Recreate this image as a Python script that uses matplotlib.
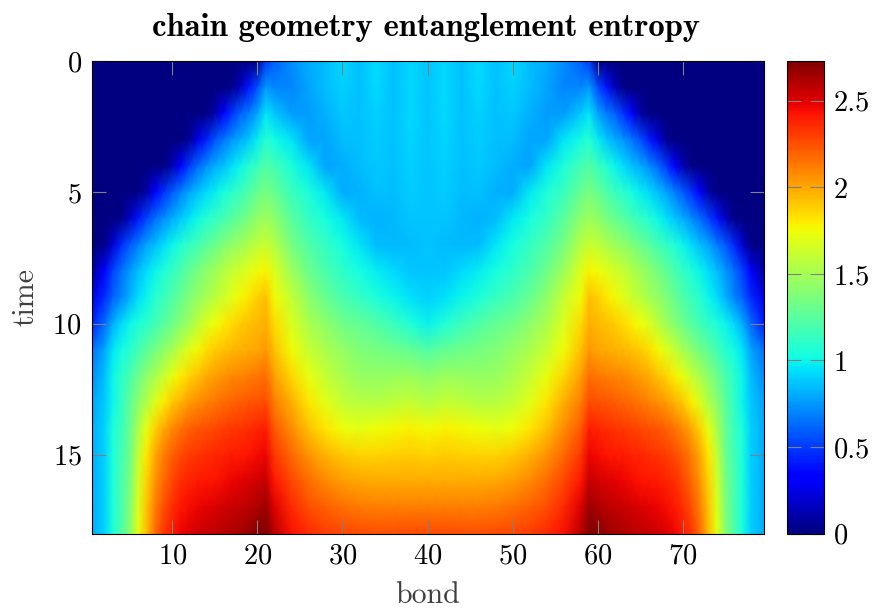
import numpy as np
import matplotlib
matplotlib.use("Agg")
import matplotlib.pyplot as plt

W, H = 876, 612
TICK_GREY = "#808080"

title = "chain geometry entanglement entropy"
x_label = "bond"
y_label = "time"
x_ticks = [10, 20, 30, 40, 50, 60, 70]
y_ticks = [0, 5, 10, 15]
cbar_ticks = [0, 0.5, 1, 1.5, 2, 2.5]
cbar_tick_labels = ["0", "0.5", "1", "1.5", "2", "2.5"]
v_max = 2.73

half_bonds = [0.5, 2, 3, 4, 5, 6, 7, 8, 9, 10, 11, 12, 13, 14, 15, 16, 17, 18, 19, 20, 21,
              22, 24, 26, 28, 30, 32, 34, 36, 38, 40]
times = list(range(19))
entropy_half = [
    [0, 0, 0, 0, 0, 0, 0, 0, 0, 0, 0, 0, 0, 0, 0, 0, 0, 0, 0, .03, .5,
     .6, .72, .8, .85, .92, .86, .93, .86, .92, .87],
    [0, 0, 0, 0, 0, 0, 0, 0, 0, 0, 0, 0, 0, 0, 0, 0, .03, .15, .4, .55, .75,
     .7, .7, .78, .85, .9, .86, .92, .86, .92, .87],
    [0, 0, 0, 0, 0, 0, 0, 0, 0, 0, 0, 0, 0, .02, .1, .32, .47, .6, .68, .78, .95,
     .88, .76, .76, .82, .88, .86, .9, .86, .92, .87],
    [0, 0, 0, 0, 0, 0, 0, 0, 0, 0, 0, .06, .25, .42, .56, .66, .74, .8, .88, .98, 1.08,
     1.02, .95, .78, .78, .85, .86, .89, .86, .91, .87],
    [0, 0, 0, 0, 0, 0, 0, 0, .02, .12, .35, .5, .62, .72, .8, .86, .93, 1.0, 1.07, 1.15, 1.22,
     1.18, 1.05, .95, .78, .8, .85, .88, .86, .9, .87],
    [0, 0, 0, 0, 0, .02, .1, .32, .47, .58, .69, .78, .86, .93, .98, 1.03, 1.09, 1.15, 1.22, 1.3, 1.35,
     1.3, 1.15, 1.05, .97, .8, .82, .86, .85, .89, .87],
    [0, 0, 0, .03, .17, .4, .53, .63, .72, .8, .88, .95, 1.01, 1.07, 1.12, 1.18, 1.24, 1.3, 1.36, 1.43, 1.48,
     1.42, 1.25, 1.12, 1.03, .96, .85, .82, .84, .87, .87],
    [0, .03, .2, .45, .58, .68, .78, .85, .93, 1.0, 1.06, 1.12, 1.18, 1.25, 1.31, 1.38, 1.43, 1.48, 1.53, 1.58, 1.62,
     1.55, 1.35, 1.22, 1.12, 1.03, .95, .85, .84, .85, .87],
    [.08, .33, .52, .65, .75, .85, .93, 1.0, 1.06, 1.13, 1.2, 1.28, 1.35, 1.42, 1.48, 1.55, 1.6, 1.65, 1.7, 1.75, 1.78,
     1.68, 1.48, 1.32, 1.2, 1.1, 1.03, .98, .92, .87, .87],
    [.25, .45, .6, .7, .82, .93, 1.0, 1.08, 1.15, 1.22, 1.3, 1.38, 1.44, 1.5, 1.57, 1.63, 1.7, 1.76, 1.82, 1.88, 1.92,
     1.75, 1.6, 1.42, 1.3, 1.2, 1.12, 1.05, 1.0, .94, .9],
    [.42, .62, .8, .92, 1.0, 1.05, 1.1, 1.17, 1.24, 1.32, 1.4, 1.48, 1.58, 1.68, 1.74, 1.8, 1.85, 1.89, 1.92, 1.95, 1.98,
     1.85, 1.68, 1.52, 1.42, 1.33, 1.28, 1.22, 1.15, 1.06, .99],
    [.65, .78, .95, 1.02, 1.08, 1.18, 1.26, 1.34, 1.42, 1.5, 1.6, 1.7, 1.77, 1.84, 1.89, 1.92, 1.95, 1.97, 1.99, 2.0, 2.04,
     1.92, 1.75, 1.62, 1.52, 1.45, 1.38, 1.35, 1.32, 1.28, 1.22],
    [.72, .85, 1.0, 1.1, 1.2, 1.32, 1.42, 1.52, 1.62, 1.72, 1.8, 1.87, 1.93, 1.99, 2.02, 2.05, 2.08, 2.1, 2.12, 2.14, 2.16,
     2.02, 1.86, 1.72, 1.6, 1.52, 1.46, 1.45, 1.46, 1.47, 1.42],
    [.78, .88, 1.0, 1.12, 1.26, 1.42, 1.54, 1.68, 1.8, 1.9, 1.97, 2.03, 2.07, 2.11, 2.14, 2.17, 2.19, 2.21, 2.23, 2.25, 2.27,
     2.12, 1.98, 1.82, 1.7, 1.61, 1.56, 1.55, 1.58, 1.6, 1.55],
    [.8, .9, 1.05, 1.15, 1.3, 1.52, 1.72, 1.88, 2.0, 2.09, 2.15, 2.2, 2.23, 2.26, 2.28, 2.3, 2.32, 2.33, 2.35, 2.37, 2.39,
     2.22, 2.07, 1.92, 1.82, 1.74, 1.71, 1.74, 1.77, 1.79, 1.75],
    [.8, .9, 1.05, 1.18, 1.32, 1.6, 1.82, 2.0, 2.12, 2.2, 2.27, 2.31, 2.33, 2.35, 2.37, 2.38, 2.4, 2.41, 2.43, 2.45, 2.47,
     2.32, 2.18, 2.05, 1.97, 1.9, 1.87, 1.87, 1.88, 1.89, 1.87],
    [.8, .9, 1.05, 1.2, 1.35, 1.65, 1.88, 2.05, 2.18, 2.28, 2.35, 2.38, 2.4, 2.42, 2.43, 2.45, 2.47, 2.49, 2.51, 2.53, 2.56,
     2.42, 2.28, 2.17, 2.08, 2.03, 2.0, 1.99, 1.99, 1.99, 1.99],
    [.8, .9, 1.05, 1.2, 1.38, 1.68, 1.92, 2.12, 2.26, 2.35, 2.42, 2.45, 2.47, 2.49, 2.51, 2.53, 2.55, 2.57, 2.59, 2.62, 2.66,
     2.5, 2.36, 2.26, 2.2, 2.16, 2.13, 2.12, 2.12, 2.12, 2.12],
    [.8, .9, 1.05, 1.22, 1.4, 1.72, 1.95, 2.18, 2.33, 2.41, 2.47, 2.51, 2.54, 2.56, 2.58, 2.6, 2.62, 2.64, 2.67, 2.71, 2.73,
     2.6, 2.44, 2.36, 2.31, 2.28, 2.27, 2.26, 2.26, 2.27, 2.27],
]

half = np.array(entropy_half)
bonds = np.array(half_bonds + [80 - b for b in half_bonds[-2::-1]])
entropy = np.hstack([half, half[:, -2::-1]])

plt.rcParams["font.family"] = "cmr10"
plt.rcParams["axes.formatter.use_mathtext"] = True


def px_axes(fig, left, right, top, bottom):
    return fig.add_axes([left / W, 1 - bottom / H, (right - left) / W, (bottom - top) / H])


fig = plt.figure(figsize=(W / 100, H / 100), dpi=100)
ax = px_axes(fig, 91.5, 763.5, 61, 533.5)
mesh = ax.pcolormesh(bonds, times, entropy, shading="gouraud", cmap="jet", vmin=0, vmax=v_max)
ax.set_xlim(0.5, 79.5)
ax.set_ylim(18, 0)
ax.set_xticks(x_ticks)
ax.set_yticks(y_ticks)
ax.tick_params(axis="both", direction="in", top=True, right=True, length=10, width=0.8,
               color=TICK_GREY, labelsize=20.5, labelcolor="black", pad=7)
ax.set_xlabel(x_label, fontsize=21.5, color="#404040", labelpad=9)
ax.set_ylabel(y_label, fontsize=21.5, color="#404040", labelpad=9)
fig.text(426 / W, 1 - 27 / H, title, family="cmb10", fontsize=23.5, ha="center", va="center")

cax = px_axes(fig, 786.5, 824, 61, 533.5)
cbar = fig.colorbar(mesh, cax=cax)
cbar.set_ticks(cbar_ticks)
cbar.set_ticklabels(cbar_tick_labels)
cbar.outline.set_linewidth(0.8)
cax.tick_params(axis="y", direction="in", left=True, right=True, length=10, width=0.8,
                color=TICK_GREY, labelsize=20.5, pad=7)

for spine in ax.spines.values():
    spine.set_linewidth(0.8)

fig.savefig("out.png", dpi=100)
